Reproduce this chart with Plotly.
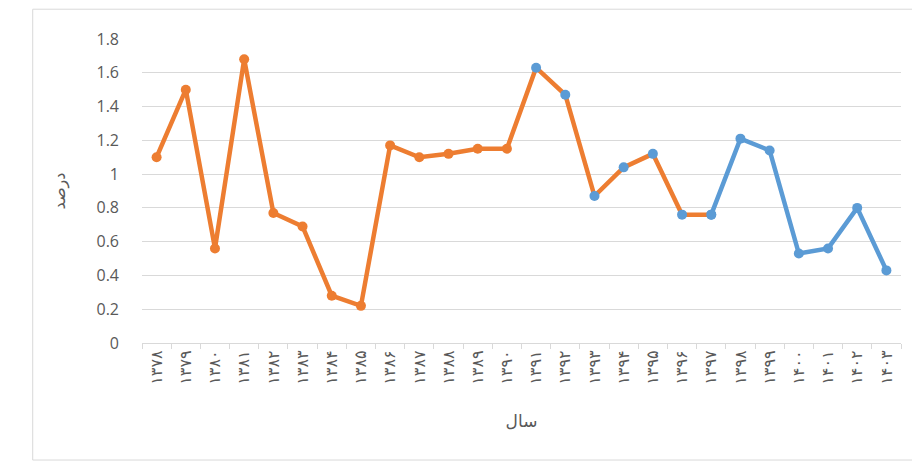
import plotly.graph_objects as go

years = ["۱۳۷۸", "۱۳۷۹", "۱۳۸۰", "۱۳۸۱", "۱۳۸۲", "۱۳۸۳", "۱۳۸۴", "۱۳۸۵", "۱۳۸۶",
         "۱۳۸۷", "۱۳۸۸", "۱۳۸۹", "۱۳۹۰", "۱۳۹۱", "۱۳۹۲", "۱۳۹۳", "۱۳۹۴", "۱۳۹۵",
         "۱۳۹۶", "۱۳۹۷", "۱۳۹۸", "۱۳۹۹", "۱۴۰۰", "۱۴۰۱", "۱۴۰۲", "۱۴۰۳"]

orange_years = years[:20]
orange_values = [1.10, 1.50, 0.56, 1.68, 0.77, 0.69, 0.28, 0.22, 1.17, 1.10,
                 1.12, 1.15, 1.15, 1.63, 1.47, 0.87, 1.04, 1.12, 0.76, 0.76]

blue_years = years[19:]
blue_values = [0.76, 1.21, 1.14, 0.53, 0.56, 0.80, 0.43]

ORANGE = "#ED7D31"
BLUE = "#5B9BD5"

orange_marker_colors = [ORANGE] * 13 + [BLUE] * 7

fig = go.Figure()
fig.add_trace(go.Scatter(
    x=blue_years, y=blue_values, mode="lines+markers",
    line=dict(color=BLUE, width=4.5),
    marker=dict(color=BLUE, size=10),
    showlegend=False,
))
fig.add_trace(go.Scatter(
    x=orange_years, y=orange_values, mode="lines+markers",
    line=dict(color=ORANGE, width=4.5),
    marker=dict(color=orange_marker_colors, size=10),
    showlegend=False,
))

fig.update_layout(
    width=912, height=453,
    margin=dict(l=134, r=19, t=31, b=118),
    paper_bgcolor="white", plot_bgcolor="white",
    font=dict(family="DejaVu Sans, Open Sans, sans-serif", color="#595959", size=15),
    xaxis=dict(
        type="category", categoryorder="array", categoryarray=years,
        range=[-0.5, 25.5],
        tickangle=-90, tickson="boundaries", ticks="outside", ticklen=5,
        tickcolor="#d9d9d9", showline=True, linecolor="#d9d9d9", linewidth=1,
        showgrid=False, tickfont=dict(size=16, family="DejaVu Sans"),
        title=dict(text="سال", font=dict(size=17, family="DejaVu Sans"), standoff=31),
    ),
    yaxis=dict(
        range=[0, 1.8], dtick=0.2, tickformat="~g",
        showgrid=True, gridcolor="#d9d9d9", gridwidth=1,
        zeroline=False, showline=False, ticks="", ticklabelstandoff=22,
        tickfont=dict(size=16, family="Open Sans"),
        title=dict(text="درصد", font=dict(size=16, family="DejaVu Sans"), standoff=26),
    ),
    shapes=[dict(type="rect", xref="paper", yref="paper",
                 x0=-0.144, x1=1.018, y0=-0.385, y1=1.098,
                 line=dict(color="#d9d9d9", width=1))],
)

fig.write_html("out.html")
